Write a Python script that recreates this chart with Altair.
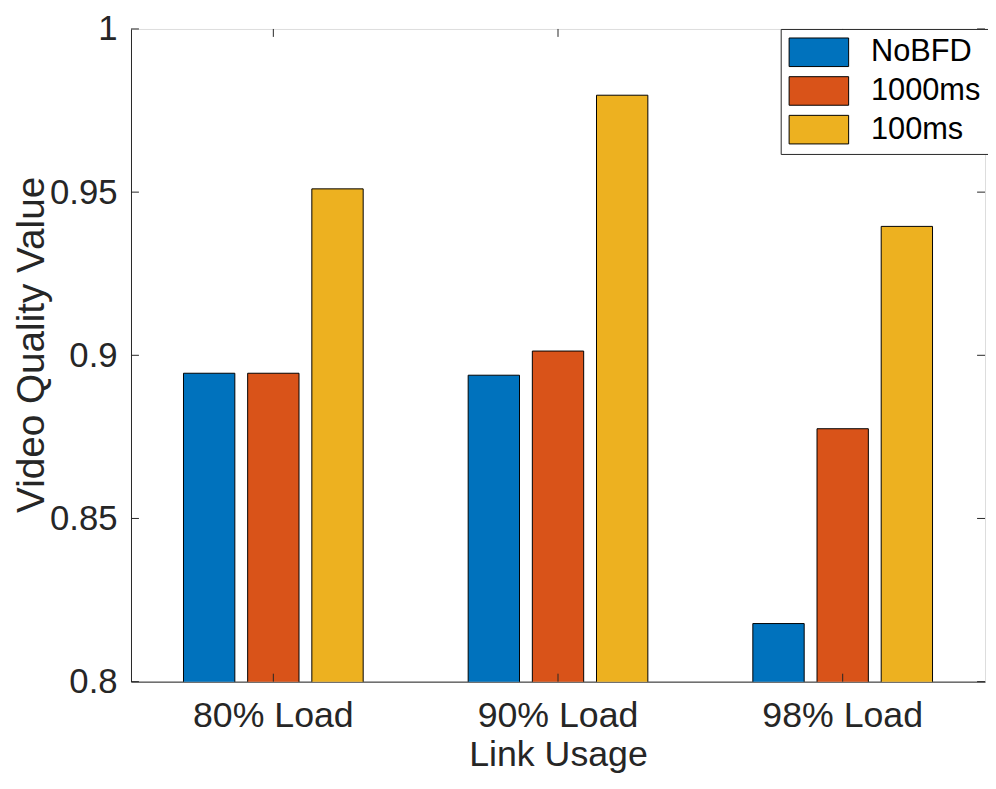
import altair as alt
import pandas as pd

categories = ["80% Load", "90% Load", "98% Load"]
series = ["NoBFD", "1000ms", "100ms"]
nobfd = [0.8945, 0.8939, 0.8178]
ms1000 = [0.8945, 0.9013, 0.8775]
ms100 = [0.9510, 0.9797, 0.9395]
colors = ["#0072BD", "#D95319", "#EDB120"]
y_ticks = [0.8, 0.85, 0.9, 0.95, 1.0]

rows = []
for name, vals in zip(series, [nobfd, ms1000, ms100]):
    for c, v in zip(categories, vals):
        rows.append({"cat": c, "series": name, "value": v})
df = pd.DataFrame(rows)
tick_df = pd.DataFrame({"t": y_ticks})
cat_df = pd.DataFrame({"cat": categories})

W, H = 861, 658
FONT = "Liberation Sans"
AX = "#262626"

xscale = alt.Scale(domain=categories, paddingInner=0, paddingOuter=0)
yscale = alt.Scale(domain=[0.8, 1.0], nice=False, zero=False)

bars = alt.Chart(df).mark_bar(clip=True, stroke="black", strokeWidth=1).encode(
    x=alt.X("cat:N", scale=xscale, sort=categories,
            axis=alt.Axis(title="Link Usage", labelAngle=0, ticks=False,
                          labelFontSize=36, labelFont=FONT, labelColor=AX,
                          labelBaseline="alphabetic", labelPadding=45,
                          titleFontSize=36, titleFont=FONT, titleColor=AX,
                          titleFontWeight="normal", titleBaseline="alphabetic",
                          titleY=85, titleX=W / 2,
                          domainColor=AX, labelLimit=400)),
    xOffset=alt.XOffset("series:N", sort=series,
                        scale=alt.Scale(domain=series, paddingInner=0.2, paddingOuter=0.818)),
    y=alt.Y("value:Q", scale=yscale,
            axis=alt.Axis(title="Video Quality Value", values=y_ticks, format="~g",
                          ticks=False, grid=False, labelFontSize=35, labelFont=FONT,
                          labelColor=AX, labelPadding=14,
                          titleFontSize=39, titleFont=FONT, titleColor=AX,
                          titleFontWeight="normal", titleBaseline="top",
                          titleX=-119, titleY=318, titleAngle=270, titleAlign="center",
                          domainColor=AX)),
    color=alt.Color("series:N", sort=series,
                    scale=alt.Scale(domain=series, range=colors),
                    legend=alt.Legend(title=None, orient="none", legendX=655, legendY=0,
                                      symbolType="M-2,-0.96H2V0.96H-2Z", symbolSize=900,
                                      symbolOffset=15,
                                      symbolStrokeColor="black", symbolStrokeWidth=1,
                                      symbolOpacity=1,
                                      labelFontSize=31, labelFont=FONT, labelColor="black",
                                      labelOffset=37, rowPadding=6, padding=8,
                                      strokeColor=AX, fillColor="white", labelLimit=300)),
)

left_ticks = alt.Chart(tick_df).mark_rule(color=AX, strokeWidth=1).encode(
    y=alt.Y("t:Q", scale=yscale), x=alt.value(0), x2=alt.value(8))
right_ticks = alt.Chart(tick_df).mark_rule(color=AX, strokeWidth=1).encode(
    y=alt.Y("t:Q", scale=yscale), x=alt.value(W - 8), x2=alt.value(W))
bottom_ticks = alt.Chart(cat_df).mark_rule(color=AX, strokeWidth=1).encode(
    x=alt.X("cat:N", scale=xscale, sort=categories), y=alt.value(H - 8), y2=alt.value(H))
top_ticks = alt.Chart(cat_df).mark_rule(color=AX, strokeWidth=1).encode(
    x=alt.X("cat:N", scale=xscale, sort=categories), y=alt.value(0), y2=alt.value(8))

chart = alt.layer(bars, left_ticks, right_ticks, bottom_ticks, top_ticks).properties(
    width=W, height=H,
    autosize=alt.AutoSizeParams(type="none"),
    padding={"left": 124, "top": 18, "right": 3, "bottom": 92},
).configure_view(stroke=AX, strokeWidth=1).configure(background="white")

chart.save("out.html", embed_options={"renderer": "svg", "actions": False})
